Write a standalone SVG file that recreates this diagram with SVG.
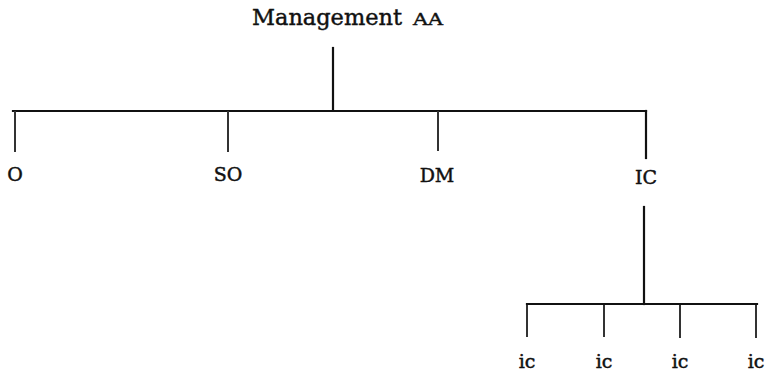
<svg xmlns="http://www.w3.org/2000/svg" width="771" height="378" viewBox="0 0 771 378">
  <style>
    .bg { fill: #ffffff; }
    .ln { stroke: #111111; stroke-width: 2.2; fill: none; stroke-linecap: square; }
    .tk { stroke: #333333; stroke-width: 2; fill: none; }
    .lbl { font-family: "DejaVu Serif", "Liberation Serif", serif; font-size: 19px; fill: #111111; stroke: #111111; stroke-width: 0.45; text-anchor: middle; }
    .title { font-family: "DejaVu Serif", "Liberation Serif", serif; font-size: 23px; fill: #111111; stroke: #111111; stroke-width: 0.45; }
    .sc { font-size: 17px; }
  </style>
  <rect class="bg" x="0" y="0" width="771" height="378"/>

  <!-- connectors -->
  <g id="connectors">
    <line class="ln" x1="333" y1="48" x2="333" y2="110"/>
    <line class="ln" x1="13" y1="111" x2="646" y2="111"/>
    <line class="tk" x1="15" y1="111" x2="15" y2="152"/>
    <line class="tk" x1="228" y1="111" x2="228" y2="152"/>
    <line class="tk" x1="438" y1="111" x2="438" y2="151"/>
    <line class="ln" x1="646" y1="111" x2="646" y2="158"/>
    <line class="ln" x1="644" y1="207" x2="644" y2="304"/>
    <line class="ln" x1="527" y1="304" x2="757" y2="304"/>
    <line class="tk" x1="527" y1="305" x2="527" y2="337"/>
    <line class="tk" x1="604" y1="305" x2="604" y2="337"/>
    <line class="tk" x1="680" y1="305" x2="680" y2="338"/>
    <line class="tk" x1="756" y1="305" x2="756" y2="338"/>
  </g>

  <g id="management">
    <text class="title" x="252" y="25" textLength="150" lengthAdjust="spacingAndGlyphs">Management</text>
    <text class="title sc" x="413" y="25" textLength="30" lengthAdjust="spacingAndGlyphs">AA</text>
  </g>
  <g id="node-o"><text class="lbl" x="15" y="181">O</text></g>
  <g id="node-so"><text class="lbl" x="228" y="181">SO</text></g>
  <g id="node-dm"><text class="lbl" x="437" y="182">DM</text></g>
  <g id="node-ic"><text class="lbl" x="646" y="184">IC</text></g>
  <g id="node-ic1"><text class="lbl" x="527" y="368">ic</text></g>
  <g id="node-ic2"><text class="lbl" x="604" y="368">ic</text></g>
  <g id="node-ic3"><text class="lbl" x="680" y="368">ic</text></g>
  <g id="node-ic4"><text class="lbl" x="756" y="368">ic</text></g>
</svg>
